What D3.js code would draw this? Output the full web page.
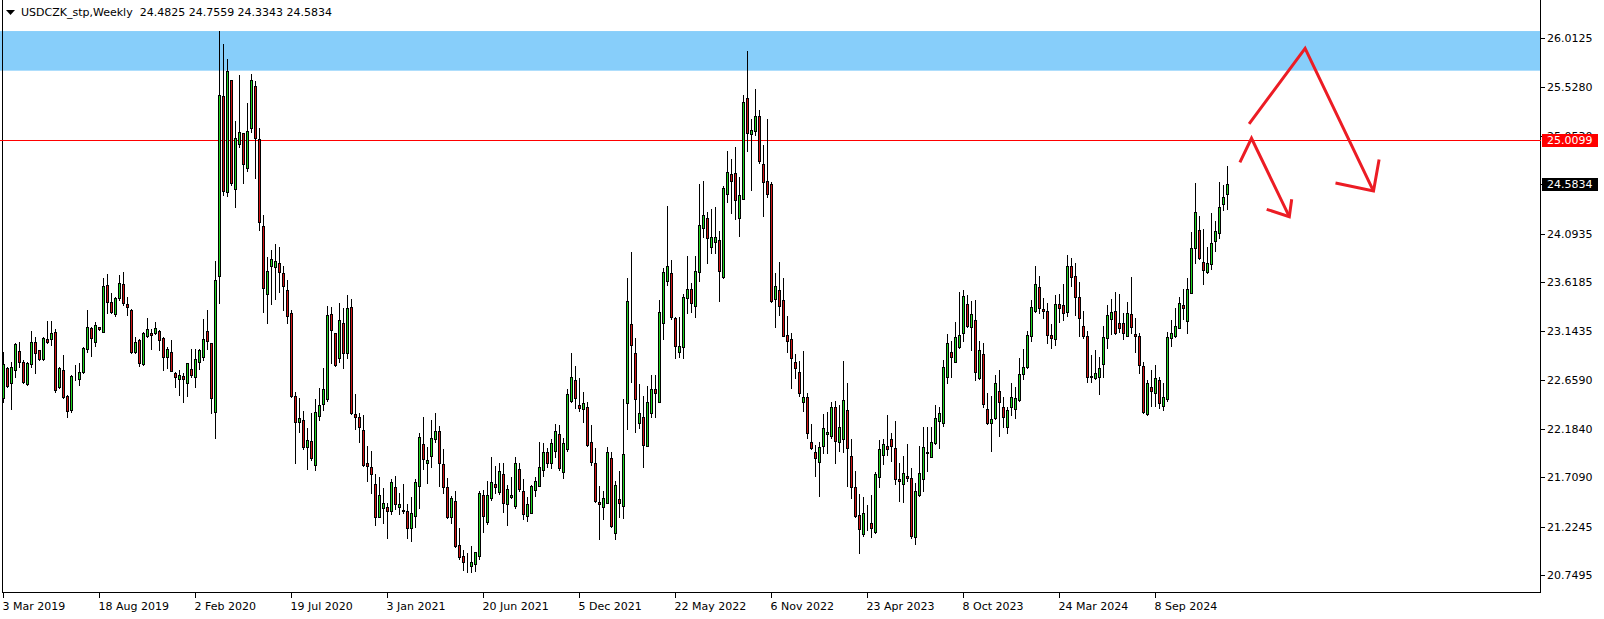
<!DOCTYPE html>
<html><head><meta charset="utf-8">
<script src="https://cdn.jsdelivr.net/npm/d3@7"></script>
<style>body{margin:0;background:#fff;}svg{display:block;}</style>
</head><body>
<svg id="chart" width="1604" height="619"></svg>
<script>
const symbolTitle = "USDCZK_stp,Weekly  24.4825 24.7559 24.3343 24.5834";
const dateLabels = ["3 Mar 2019","18 Aug 2019","2 Feb 2020","19 Jul 2020","3 Jan 2021","20 Jun 2021","5 Dec 2021","22 May 2022","6 Nov 2022","23 Apr 2023","8 Oct 2023","24 Mar 2024","8 Sep 2024"];
const dateTickBars = [0,24,48,72,96,120,144,168,192,216,240,264,288];
const priceTicks = [26.0125,25.5280,25.0530,24.5780,24.0935,23.6185,23.1435,22.6590,22.1840,21.7090,21.2245,20.7495];
const levelPrice = 25.0099;
const lastPrice = 24.5834;
const zoneTop = 26.077, zoneBottom = 25.689;

const opens = [
22.480,22.773,22.627,22.757,22.943,22.832,22.623,22.813,23.028,22.953,
22.865,23.057,23.057,23.129,22.594,22.757,22.502,22.362,22.688,22.666,
22.734,22.960,23.168,23.035,23.175,23.132,23.590,23.426,23.302,23.459,
23.596,23.400,23.341,22.937,23.051,22.816,23.093,23.116,23.116,23.136,
23.074,22.881,22.933,22.724,22.666,22.698,22.627,22.767,22.692,22.839,
22.881,23.142,23.018,22.342,23.681,25.438,24.497,25.594,24.527,24.967,
25.075,24.732,25.124,25.535,25.016,24.164,23.498,23.779,23.763,23.802,
23.704,23.541,23.312,22.502,22.251,22.267,22.006,22.062,21.827,22.310,
22.421,22.473,23.306,23.123,22.878,23.221,22.920,23.371,22.326,22.293,
22.169,21.849,21.804,21.641,21.321,21.402,21.418,21.379,21.608,21.418,
21.379,21.376,21.206,21.330,21.624,22.032,21.849,21.918,22.078,22.160,
21.833,21.608,21.314,21.471,21.043,20.935,20.864,20.841,20.854,20.939,
21.533,21.272,21.500,21.641,21.565,21.738,21.441,21.516,21.428,21.784,
21.572,21.327,21.360,21.582,21.624,21.777,21.950,21.843,21.967,22.130,
21.755,21.980,22.457,22.659,22.414,22.372,22.391,22.055,21.843,21.467,
21.418,21.451,21.892,21.164,21.490,21.428,22.430,23.204,22.920,22.241,
22.293,22.016,22.333,22.568,22.447,23.214,23.632,23.704,23.263,22.937,
22.986,23.459,23.547,23.387,23.714,24.145,24.243,23.965,24.007,24.030,
23.665,24.481,24.677,24.683,24.249,24.432,25.418,25.065,25.101,25.245,
24.775,24.608,24.579,23.449,23.540,23.443,23.100,23.061,22.832,22.734,
22.440,22.489,22.055,21.950,21.852,22.013,22.130,22.114,22.391,22.049,
22.078,22.365,21.915,21.608,21.337,21.147,21.337,21.255,21.173,21.706,
21.924,22.013,22.078,21.990,21.686,21.637,21.719,21.696,21.118,21.533,
21.686,21.941,21.908,22.039,22.261,22.241,22.685,22.930,22.832,22.986,
23.116,23.400,23.182,23.247,22.682,22.911,22.375,22.235,22.284,22.555,
22.391,22.196,22.391,22.372,22.463,22.715,22.790,23.093,23.338,23.567,
23.351,23.335,23.100,23.058,23.400,23.394,23.329,23.776,23.678,23.469,
23.188,23.090,22.698,22.682,22.692,22.813,23.067,23.253,23.335,23.214,
23.214,23.090,23.302,23.110,23.093,22.800,22.323,22.594,22.529,22.659,
22.408,22.470,23.074,23.093,23.172,23.394,23.240,23.515,23.949,24.125,
23.812,23.714,23.800,24.020,24.100,24.380,24.4825];
const highs = [
22.937,22.790,22.839,23.018,23.028,22.855,22.839,23.139,23.077,22.953,
23.077,23.237,23.237,23.159,22.790,22.904,22.512,22.708,22.806,22.822,
22.986,23.345,23.181,23.230,23.181,23.655,23.697,23.508,23.475,23.688,
23.714,23.475,23.351,23.084,23.057,23.132,23.263,23.159,23.230,23.149,
23.077,22.979,23.051,22.741,22.757,22.724,22.829,22.960,22.960,22.966,
23.253,23.345,23.025,23.825,26.078,25.950,25.800,25.597,25.196,25.647,
25.082,25.369,25.653,25.588,25.124,24.275,23.861,23.932,23.991,23.958,
23.779,23.639,23.345,22.540,22.480,22.356,22.186,22.339,22.473,22.578,
22.774,23.384,23.377,23.123,23.410,23.361,23.492,23.449,22.522,22.333,
22.316,22.013,21.967,21.739,21.712,21.598,21.458,21.686,21.719,21.549,
21.641,21.445,21.516,21.689,22.143,22.300,22.006,22.267,22.339,22.209,
21.983,21.703,21.523,21.575,21.213,20.994,20.961,21.033,20.977,21.575,
21.582,21.673,21.908,21.817,21.849,21.849,21.630,21.712,21.908,21.843,
21.686,21.516,21.630,21.712,22.055,22.045,21.990,22.078,22.228,22.218,
22.088,22.568,22.927,22.796,22.675,22.538,22.447,22.218,21.990,21.621,
21.575,21.999,21.957,21.670,21.771,22.470,23.655,23.910,23.067,22.620,
22.502,22.600,22.708,22.708,23.443,23.759,24.363,23.834,23.280,23.280,
23.501,23.874,23.606,23.874,24.579,24.608,24.301,24.334,24.350,24.118,
24.562,24.902,24.824,24.938,24.651,25.451,25.882,25.215,25.509,25.304,
24.961,25.215,24.595,23.710,23.818,23.661,23.286,23.116,22.914,22.845,
22.943,22.528,22.228,22.022,22.055,22.326,22.343,22.447,22.457,22.414,
22.845,22.633,22.081,21.771,21.542,21.510,21.435,21.533,21.755,22.071,
22.078,22.316,22.137,22.261,21.843,21.915,22.032,21.794,21.647,22.013,
22.202,22.196,22.202,22.414,22.392,22.855,23.110,23.041,23.231,23.524,
23.541,23.492,23.436,23.443,23.041,23.018,22.529,22.502,22.708,22.757,
22.496,22.398,22.627,22.594,22.871,22.960,23.143,23.443,23.776,23.678,
23.459,23.417,23.208,23.492,23.502,23.600,23.884,23.851,23.808,23.622,
23.338,23.143,22.904,22.953,22.880,23.188,23.394,23.453,23.524,23.502,
23.312,23.420,23.671,23.270,23.116,22.832,22.659,22.757,22.806,22.692,
22.627,23.133,23.247,23.361,23.475,23.547,23.655,24.112,24.586,24.266,
24.135,23.959,24.298,24.220,24.602,24.569,24.7559];
const lows = [
22.447,22.594,22.378,22.692,22.790,22.627,22.610,22.790,22.724,22.855,
22.855,23.018,23.002,22.545,22.584,22.480,22.300,22.349,22.659,22.610,
22.724,22.937,22.894,22.992,23.149,23.132,23.312,23.312,23.289,23.443,
23.394,23.296,22.927,22.920,22.796,22.806,23.077,22.960,23.110,22.953,
22.757,22.773,22.751,22.594,22.512,22.447,22.506,22.692,22.594,22.767,
22.855,22.960,22.333,22.094,23.417,24.471,24.465,24.569,24.357,24.945,
24.592,24.709,25.092,24.634,24.128,23.328,23.214,23.404,23.449,23.524,
23.345,23.214,22.496,21.850,22.150,21.983,21.784,21.876,21.778,22.267,
22.365,22.457,22.822,22.796,22.839,22.773,22.871,22.323,22.176,22.055,
21.817,21.673,21.549,21.239,21.321,21.255,21.115,21.347,21.392,21.347,
21.353,21.115,21.086,21.223,21.409,21.784,21.654,21.804,22.055,21.621,
21.556,21.311,21.255,21.027,20.903,20.798,20.780,20.780,20.790,20.903,
21.174,21.245,21.484,21.549,21.540,21.369,21.239,21.500,21.409,21.572,
21.294,21.281,21.353,21.523,21.624,21.722,21.810,21.800,21.908,21.777,
21.696,21.967,22.447,22.382,22.359,22.251,22.013,21.826,21.467,21.098,
21.294,21.451,21.222,21.098,21.320,21.304,22.179,22.643,22.153,22.186,
21.804,22.013,22.293,22.293,22.447,23.057,23.590,23.253,22.871,22.888,
22.878,23.319,23.328,23.280,23.632,24.063,23.808,23.900,23.906,23.436,
23.655,24.399,24.298,24.236,24.069,24.432,24.902,24.520,25.059,24.788,
24.269,24.455,23.420,23.181,23.296,23.093,22.937,22.584,22.675,22.502,
22.359,22.088,21.980,21.722,21.526,21.947,21.947,22.088,21.849,21.964,
21.957,21.624,21.506,21.314,20.961,21.134,21.190,21.124,21.164,21.614,
21.836,21.924,21.869,21.640,21.477,21.467,21.673,21.108,21.049,21.523,
21.575,21.771,21.908,22.032,21.996,22.212,22.633,22.692,22.832,22.969,
23.044,23.175,22.953,22.659,22.666,22.398,22.228,21.967,22.277,22.114,
22.196,22.137,22.316,22.284,22.457,22.666,22.773,23.044,23.329,23.312,
23.263,23.018,22.969,23.002,23.231,23.247,23.286,23.580,23.296,23.090,
23.067,22.643,22.643,22.666,22.520,22.692,22.976,23.106,23.106,23.133,
23.057,23.090,23.123,22.937,22.731,22.339,22.316,22.404,22.404,22.382,
22.365,22.453,22.992,23.077,23.165,23.253,23.116,23.515,23.808,23.841,
23.596,23.711,23.750,23.920,24.050,24.324,24.3343];
const closes = [
22.813,22.604,22.783,23.008,22.839,22.643,22.822,23.028,22.920,22.862,
23.067,23.035,23.116,22.561,22.780,22.489,22.352,22.698,22.685,22.734,
22.969,23.175,23.067,23.195,23.159,23.580,23.426,23.328,23.459,23.606,
23.410,23.377,22.937,23.028,22.829,23.116,23.155,23.103,23.165,23.048,
22.888,22.963,22.751,22.692,22.708,22.666,22.822,22.711,22.868,22.953,
23.061,23.038,22.486,23.639,25.447,24.514,25.686,24.592,25.026,25.085,
24.771,25.098,25.594,25.026,24.203,23.557,23.730,23.841,23.825,23.714,
23.583,23.289,22.506,22.251,22.284,22.000,22.071,21.892,22.343,22.414,
22.571,23.296,23.149,22.806,23.247,22.920,23.361,22.339,22.300,22.196,
21.827,21.817,21.735,21.321,21.533,21.451,21.379,21.657,21.441,21.445,
21.382,21.206,21.353,21.657,22.098,21.882,21.876,22.088,22.160,21.843,
21.614,21.321,21.500,21.036,20.929,20.880,20.867,20.873,20.971,21.549,
21.330,21.533,21.657,21.614,21.768,21.457,21.588,21.532,21.843,21.588,
21.343,21.441,21.624,21.670,21.810,21.957,21.849,22.039,22.163,21.794,
22.039,22.519,22.685,22.480,22.388,22.430,22.022,21.859,21.477,21.444,
21.500,21.950,21.229,21.631,21.451,21.931,23.436,23.002,22.470,22.333,
22.022,22.440,22.568,22.529,23.322,23.714,23.776,23.280,22.995,22.992,
23.469,23.547,23.417,23.727,24.177,24.275,24.053,24.056,24.056,23.730,
24.543,24.693,24.611,24.422,24.471,25.385,25.082,25.108,25.245,24.807,
24.595,24.478,23.436,23.580,23.387,23.093,23.044,22.871,22.773,22.528,
22.489,22.136,21.990,21.892,22.006,22.192,22.146,22.398,22.062,22.195,
22.463,21.990,21.614,21.330,21.196,21.353,21.340,21.206,21.735,21.980,
22.029,21.980,22.016,21.686,21.670,21.745,21.702,21.134,21.572,21.745,
22.006,21.954,22.055,22.284,22.333,22.783,23.018,22.888,23.077,23.100,
23.482,23.191,23.306,22.734,22.953,22.424,22.241,22.277,22.627,22.447,
22.300,22.365,22.489,22.480,22.715,22.783,23.100,23.371,23.596,23.368,
23.338,23.100,23.067,23.400,23.361,23.319,23.776,23.671,23.475,23.270,
23.093,22.685,22.685,22.724,22.774,23.077,23.296,23.329,23.123,23.172,
23.116,23.312,23.182,23.090,22.806,22.349,22.627,22.555,22.682,22.431,
22.489,23.077,23.123,23.191,23.410,23.361,23.547,23.949,24.301,23.857,
23.737,23.802,24.000,24.120,24.350,24.455,24.5834];

// hand-drawn arrows: [bar index, price]
const arrowShort = [[309.1,24.79],[312.0,25.027],[321.45,24.259]];
const arrowShortHead = [[315.8,24.331],[321.45,24.259],[322.05,24.429]];
const arrowLong = [[311.4,25.167],[325.4,25.908],[342.5,24.51]];
const arrowLongHead = [[333.0,24.589],[342.5,24.51],[343.9,24.818]];

const svg = d3.select("#chart");
const plotRight = 1540.5, plotBottom = 592.5, plotLeft = 2.5;
const FONT = "DejaVu Sans, Verdana, sans-serif";

const x = d3.scaleLinear().domain([0, 306]).range([3.5, 1227.5]);
const y = d3.scaleLinear().domain([levelPrice, 20.7495]).range([140, 575]);

const bars = d3.range(opens.length).map(i => ({i, o: opens[i], h: highs[i], l: lows[i], c: closes[i]}));

// zone rectangle
svg.append("rect").attr("x", 0).attr("y", y(zoneTop))
  .attr("width", plotRight).attr("height", y(zoneBottom) - y(zoneTop))
  .attr("fill", "#87CEFA");

// frame
svg.append("path").attr("d", `M${plotLeft},0V${plotBottom}H${plotRight}V0`)
  .attr("fill", "none").attr("stroke", "#000").attr("stroke-width", 1)
  .attr("shape-rendering", "crispEdges");

// level line
svg.append("line").attr("x1", 0).attr("x2", plotRight)
  .attr("y1", Math.round(y(levelPrice)) + 0.5).attr("y2", Math.round(y(levelPrice)) + 0.5)
  .attr("stroke", "#ff0000").attr("stroke-width", 1).attr("shape-rendering", "crispEdges");

// candles
const g = svg.append("g").attr("shape-rendering", "crispEdges");
g.selectAll("line.wick").data(bars).join("line").attr("class", "wick")
  .attr("x1", d => x(d.i)).attr("x2", d => x(d.i))
  .attr("y1", d => Math.round(y(d.h))).attr("y2", d => Math.round(y(d.l)) + 1)
  .attr("stroke", "#000").attr("stroke-width", 1);
g.selectAll("rect.body").data(bars).join("rect").attr("class", "body")
  .attr("x", d => x(d.i) - 1)
  .attr("y", d => Math.round(y(Math.max(d.o, d.c))) + 0.5)
  .attr("width", 2)
  .attr("height", d => Math.max(0, Math.round(y(Math.min(d.o, d.c))) - Math.round(y(Math.max(d.o, d.c)))))
  .attr("fill", d => d.c >= d.o ? "#1fd31f" : "#d01414")
  .attr("stroke", "#000").attr("stroke-width", 1);

// arrows
const line = d3.line().x(d => x(d[0])).y(d => y(d[1]));
[arrowShort, arrowShortHead, arrowLong, arrowLongHead].forEach(pts => {
  svg.append("path").attr("d", line(pts)).attr("fill", "none")
    .attr("stroke", "#ec1c24").attr("stroke-width", 3)
    .attr("stroke-linejoin", "miter").attr("stroke-linecap", "butt");
});

// price axis
const pa = svg.append("g");
pa.selectAll("line").data(priceTicks).join("line")
  .attr("x1", plotRight).attr("x2", plotRight + 4)
  .attr("y1", d => Math.round(y(d)) + 0.5).attr("y2", d => Math.round(y(d)) + 0.5)
  .attr("stroke", "#000").attr("shape-rendering", "crispEdges");
pa.selectAll("text").data(priceTicks).join("text")
  .attr("x", 1547).attr("y", d => Math.round(y(d)) + 4)
  .attr("font-family", FONT).attr("font-size", 11).attr("fill", "#000")
  .text(d => d.toFixed(4));

function priceTag(p, bg) {
  const cy = Math.round(y(p));
  svg.append("rect").attr("x", 1542).attr("y", cy - 6).attr("width", 56).attr("height", 13)
    .attr("fill", bg);
  svg.append("text").attr("x", 1547).attr("y", cy + 4)
    .attr("font-family", FONT).attr("font-size", 11).attr("fill", "#fff")
    .text(p.toFixed(4));
}
priceTag(levelPrice, "#ff0000");
priceTag(lastPrice, "#000000");

// date axis
const da = svg.append("g");
da.selectAll("line").data(dateTickBars).join("line")
  .attr("x1", d => x(d)).attr("x2", d => x(d))
  .attr("y1", plotBottom).attr("y2", plotBottom + 5)
  .attr("stroke", "#000").attr("shape-rendering", "crispEdges");
da.selectAll("text").data(dateTickBars).join("text")
  .attr("x", d => x(d) - 1).attr("y", 610)
  .attr("font-family", FONT).attr("font-size", 11).attr("fill", "#000")
  .text((d, k) => dateLabels[k]);

// title
svg.append("path").attr("d", "M6,10H15L10.5,15Z").attr("fill", "#000");
svg.append("text").attr("x", 21).attr("y", 16)
  .attr("font-family", FONT).attr("font-size", 11).attr("fill", "#000")
  .attr("xml:space", "preserve").style("white-space", "pre")
  .text(symbolTitle);
</script>
</body></html>
